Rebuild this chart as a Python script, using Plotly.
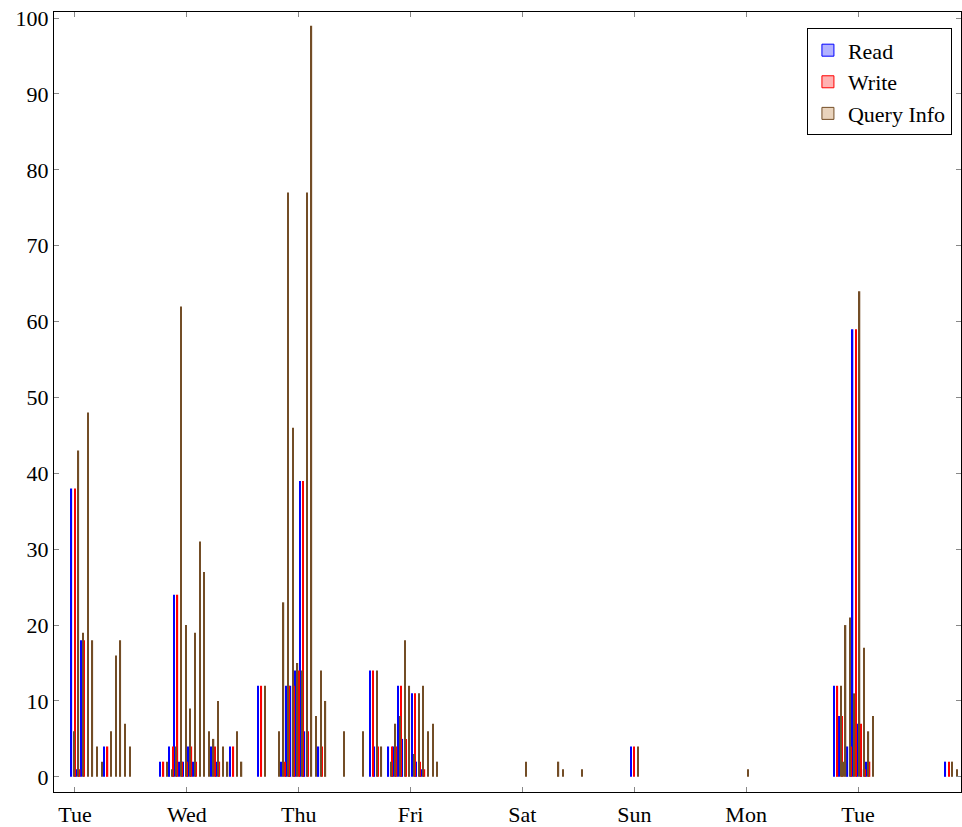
import plotly.graph_objects as go

# time of each sample, in hours since the first Tuesday 00:00
hours = [-1, 0, 1, 2, 3, 4, 5, 7, 8, 9, 10, 11,
         19, 20, 21, 22, 23, 24, 25, 26, 27, 28, 29, 30, 31, 32, 34, 35,
         40, 43, 44, 45, 46, 47, 48, 49, 50, 51, 52, 53,
         57, 61, 64, 65, 67, 68, 69, 70, 71, 72, 73, 74, 75, 76, 77,
         96, 103, 104, 108, 120, 143.6,
         163.6, 164.1, 164.6, 165.5, 166.5, 167.6, 168.6, 169.5, 170.5,
         187.5, 188.5]

read = [0, 38, 1, 18, 0, 0, 0, 4, 0, 0, 0, 0,
        2, 0, 4, 24, 2, 2, 4, 2, 0, 0, 0, 4, 2, 0, 4, 0,
        12, 0, 0, 2, 12, 12, 14, 39, 6, 0, 0, 4,
        0, 0, 14, 4, 0, 4, 4, 12, 5, 0, 11, 2, 1, 0, 0,
        0, 0, 0, 0, 4, 0,
        12, 0, 8, 0, 4, 59, 7, 1, 2,
        2, 0]

write = [0, 38, 1, 18, 0, 0, 0, 4, 0, 0, 0, 0,
         2, 0, 4, 24, 2, 2, 4, 2, 0, 0, 0, 4, 2, 0, 4, 0,
         12, 0, 0, 2, 12, 12, 14, 39, 6, 0, 0, 4,
         0, 0, 14, 4, 0, 4, 4, 12, 5, 0, 11, 2, 1, 0, 0,
         0, 0, 0, 0, 4, 0,
         12, 0, 8, 0, 4, 59, 7, 1, 2,
         2, 0]

query_info = [6, 43, 19, 48, 18, 4, 2, 6, 16, 18, 7, 4,
              2, 1, 4, 62, 20, 9, 19, 31, 27, 6, 5, 10, 4, 2, 6, 2,
              12, 6, 23, 77, 46, 15, 14, 77, 99, 8, 14, 10,
              6, 6, 14, 4, 2, 7, 8, 18, 12, 3, 11, 12, 6, 7, 2,
              2, 2, 1, 1, 4, 1,
              12, 2, 20, 21, 11, 64, 17, 6, 8,
              2, 1]

day_ticks = [0, 24, 48, 72, 96, 120, 144, 168]
day_labels = ["Tue", "Wed", "Thu", "Fri", "Sat", "Sun", "Mon", "Tue"]

series = [
    ("Read", read, "#0000ff", "rgba(0,0,255,0.3)", -0.75),
    ("Write", write, "#ff0000", "rgba(255,0,0,0.3)", 0.0),
    ("Query Info", query_info, "#734d26", "rgba(191,128,64,0.35)", 0.75),
]

bar_w = 0.28
fig = go.Figure()
for name, vals, col, fill, shift in series:
    fig.add_trace(go.Bar(
        x=hours, y=vals, name=name, showlegend=False,
        width=bar_w, offset=shift - bar_w / 2,
        marker=dict(color=col, line=dict(width=0)),
    ))
for name, vals, col, fill, shift in series:
    fig.add_trace(go.Bar(
        x=[None], y=[None], name=name, showlegend=True,
        marker=dict(color=fill, line=dict(color=col, width=1)),
    ))

font = "Liberation Serif, Times New Roman, serif"
fig.update_layout(
    width=962, height=827,
    margin=dict(l=54, r=1, t=12, b=35),
    plot_bgcolor="white", paper_bgcolor="white",
    barmode="overlay",
    font=dict(family=font, size=22, color="black"),
    legend=dict(x=0.99, xanchor="right", y=0.979, yanchor="top",
                bordercolor="black", borderwidth=1, bgcolor="white",
                font=dict(family=font, size=22), tracegroupgap=0,
                itemwidth=30),
    xaxis=dict(range=[-4.5, 190.1], tickvals=day_ticks, ticktext=day_labels,
               showline=True, linecolor="black", linewidth=1, mirror="ticks",
               ticks="inside", ticklen=5, tickcolor="#888", showgrid=False,
               zeroline=False, ticklabelstandoff=3),
    yaxis=dict(range=[-2, 100.8], tickvals=list(range(0, 101, 10)),
               showline=True, linecolor="black", linewidth=1, mirror="ticks",
               ticks="inside", ticklen=5, tickcolor="#888", showgrid=False,
               zeroline=False),
)

fig.write_html("out.html", config={"displayModeBar": False})
with open("out.html", "r", encoding="utf-8") as f:
    html = f.read()
html = html.replace("<head>", "<head><style>html,body{margin:0;padding:0;overflow:hidden;}</style>", 1)
with open("out.html", "w", encoding="utf-8") as f:
    f.write(html)
